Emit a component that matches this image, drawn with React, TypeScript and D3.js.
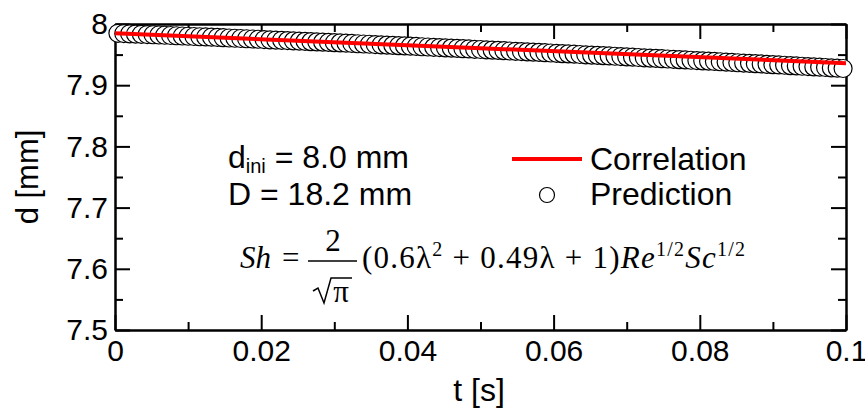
import * as d3 from "d3";
import React, { useRef, useEffect } from "react";

// time axis ticks
const xMajor = [0, 0.02, 0.04, 0.06, 0.08, 0.1];
const xMinor = [0.01, 0.03, 0.05, 0.07, 0.09];
const xTickLabels = ["0", "0.02", "0.04", "0.06", "0.08", "0.1"];
// diameter axis ticks
const yMajor = [7.5, 7.6, 7.7, 7.8, 7.9, 8.0];
const yMinor = [7.55, 7.65, 7.75, 7.85, 7.95];
const yTickLabels = ["7.5", "7.6", "7.7", "7.8", "7.9", "8"];

// correlation line
const corrT = [0, 0.05, 0.1];
const corrD = [7.985, 7.9605, 7.936];

// prediction (circles)
const predT = [
  0.0004, 0.0012, 0.002, 0.0028, 0.0036, 0.0044, 0.0052, 0.006, 0.0068, 0.0076,
  0.0084, 0.0092, 0.01, 0.0108, 0.0116, 0.0124, 0.0132, 0.014, 0.0148, 0.0156,
  0.0164, 0.0172, 0.018, 0.0188, 0.0196, 0.0204, 0.0212, 0.022, 0.0228, 0.0236,
  0.0244, 0.0252, 0.026, 0.0268, 0.0276, 0.0284, 0.0292, 0.03, 0.0308, 0.0316,
  0.0324, 0.0332, 0.034, 0.0348, 0.0356, 0.0364, 0.0372, 0.038, 0.0388, 0.0396,
  0.0404, 0.0412, 0.042, 0.0428, 0.0436, 0.0444, 0.0452, 0.046, 0.0468, 0.0476,
  0.0484, 0.0492, 0.05, 0.0508, 0.0516, 0.0524, 0.0532, 0.054, 0.0548, 0.0556,
  0.0564, 0.0572, 0.058, 0.0588, 0.0596, 0.0604, 0.0612, 0.062, 0.0628, 0.0636,
  0.0644, 0.0652, 0.066, 0.0668, 0.0676, 0.0684, 0.0692, 0.07, 0.0708, 0.0716,
  0.0724, 0.0732, 0.074, 0.0748, 0.0756, 0.0764, 0.0772, 0.078, 0.0788, 0.0796,
  0.0804, 0.0812, 0.082, 0.0828, 0.0836, 0.0844, 0.0852, 0.086, 0.0868, 0.0876,
  0.0884, 0.0892, 0.09, 0.0908, 0.0916, 0.0924, 0.0932, 0.094, 0.0948, 0.0956,
  0.0964, 0.0972, 0.098, 0.0988, 0.0996,
];
const predD = [
  7.9848, 7.9844, 7.984, 7.9836, 7.9832, 7.9828, 7.9824, 7.982, 7.9816, 7.9812,
  7.9808, 7.9804, 7.98, 7.9796, 7.9792, 7.9788, 7.9784, 7.978, 7.9776, 7.9771,
  7.9767, 7.9763, 7.9759, 7.9755, 7.9751, 7.9746, 7.9742, 7.9738, 7.9734, 7.9729,
  7.9725, 7.9721, 7.9717, 7.9712, 7.9708, 7.9704, 7.9699, 7.9695, 7.9691, 7.9686,
  7.9682, 7.9677, 7.9673, 7.9669, 7.9664, 7.966, 7.9655, 7.9651, 7.9646, 7.9642,
  7.9637, 7.9633, 7.9628, 7.9624, 7.9619, 7.9615, 7.961, 7.9606, 7.9601, 7.9596,
  7.9592, 7.9587, 7.9583, 7.9578, 7.9573, 7.9569, 7.9564, 7.9559, 7.9554, 7.955,
  7.9545, 7.954, 7.9536, 7.9531, 7.9526, 7.9521, 7.9516, 7.9512, 7.9507, 7.9502,
  7.9497, 7.9492, 7.9487, 7.9483, 7.9478, 7.9473, 7.9468, 7.9463, 7.9458, 7.9453,
  7.9448, 7.9443, 7.9438, 7.9433, 7.9428, 7.9423, 7.9418, 7.9413, 7.9408, 7.9403,
  7.9398, 7.9393, 7.9388, 7.9383, 7.9378, 7.9372, 7.9367, 7.9362, 7.9357, 7.9352,
  7.9347, 7.9341, 7.9336, 7.9331, 7.9326, 7.932, 7.9315, 7.931, 7.9305, 7.9299,
  7.9294, 7.9289, 7.9283, 7.9278, 7.9273,
];

const W = 865;
const H = 411;
const margin = { top: 24, right: 19, bottom: 81, left: 115 };
const SANS = "Arial, 'Liberation Sans', sans-serif";
const SERIF = "'Times New Roman', 'Liberation Serif', serif";

export default function App() {
  const ref = useRef<SVGSVGElement>(null);

  useEffect(() => {
    const svg = d3.select(ref.current);
    svg.selectAll("*").remove();

    const x = d3.scaleLinear().domain([0, 0.1]).range([margin.left, W - margin.right]);
    const y = d3.scaleLinear().domain([7.5, 8]).range([H - margin.bottom, margin.top]);
    const x0 = margin.left, x1 = W - margin.right, y0 = H - margin.bottom, y1 = margin.top;

    const style = (g: any) => {
      g.selectAll("path,line").attr("stroke", "#000").attr("stroke-width", 2);
      g.selectAll("text").attr("font-family", SANS).attr("font-size", 30).attr("fill", "#000");
    };

    // bottom
    svg.append("g").attr("transform", `translate(0,${y0})`)
      .call(d3.axisBottom(x).tickValues(xMajor).tickSize(-15).tickSizeOuter(0).tickPadding(10)
        .tickFormat((d, i) => xTickLabels[i]))
      .call(style);
    svg.append("g").attr("transform", `translate(0,${y0})`)
      .call(d3.axisBottom(x).tickValues(xMinor).tickSize(-8).tickSizeOuter(0).tickFormat(() => ""))
      .call(style);
    // top
    svg.append("g").attr("transform", `translate(0,${y1})`)
      .call(d3.axisTop(x).tickValues(xMajor).tickSize(-15).tickSizeOuter(0).tickFormat(() => ""))
      .call(style);
    svg.append("g").attr("transform", `translate(0,${y1})`)
      .call(d3.axisTop(x).tickValues(xMinor).tickSize(-8).tickSizeOuter(0).tickFormat(() => ""))
      .call(style);
    // left
    svg.append("g").attr("transform", `translate(${x0},0)`)
      .call(d3.axisLeft(y).tickValues(yMajor).tickSize(-15).tickSizeOuter(0).tickPadding(7)
        .tickFormat((d, i) => yTickLabels[i]))
      .call(style);
    svg.append("g").attr("transform", `translate(${x0},0)`)
      .call(d3.axisLeft(y).tickValues(yMinor).tickSize(-8).tickSizeOuter(0).tickFormat(() => ""))
      .call(style);
    // right
    svg.append("g").attr("transform", `translate(${x1},0)`)
      .call(d3.axisRight(y).tickValues(yMajor).tickSize(-15).tickSizeOuter(0).tickFormat(() => ""))
      .call(style);
    svg.append("g").attr("transform", `translate(${x1},0)`)
      .call(d3.axisRight(y).tickValues(yMinor).tickSize(-8).tickSizeOuter(0).tickFormat(() => ""))
      .call(style);

    // axis titles
    svg.append("text").attr("x", 479).attr("y", 401).attr("text-anchor", "middle")
      .attr("font-family", SANS).attr("font-size", 32).text("t [s]");
    svg.append("text").attr("transform", `translate(38,${(y0 + y1) / 2}) rotate(-90)`)
      .attr("text-anchor", "middle").attr("font-family", SANS).attr("font-size", 31).text("d [mm]");

    // prediction circles
    svg.append("g").selectAll("circle").data(predT).enter().append("circle")
      .attr("cx", (d) => x(d)).attr("cy", (d, i) => y(predD[i])).attr("r", 9)
      .attr("fill", "#fff").attr("stroke", "#000").attr("stroke-width", 1.2);

    // correlation line
    const line = d3.line<number>().x((d) => x(d)).y((d, i) => y(corrD[i]));
    svg.append("path").datum(corrT).attr("d", line).attr("fill", "none")
      .attr("stroke", "#ff0000").attr("stroke-width", 4);

    // conditions text
    const t1 = svg.append("text").attr("x", 228).attr("y", 168).attr("font-family", SANS).attr("font-size", 32);
    t1.append("tspan").text("d");
    t1.append("tspan").attr("font-size", 20).attr("dy", 5).text("ini");
    t1.append("tspan").attr("dy", -5).text(" = 8.0 mm");
    svg.append("text").attr("x", 228).attr("y", 205).attr("font-family", SANS).attr("font-size", 32)
      .text("D = 18.2 mm");

    // legend
    svg.append("line").attr("x1", 512).attr("x2", 582).attr("y1", 159).attr("y2", 159)
      .attr("stroke", "#ff0000").attr("stroke-width", 4);
    svg.append("text").attr("x", 590).attr("y", 170).attr("font-family", SANS).attr("font-size", 32)
      .text("Correlation");
    svg.append("circle").attr("cx", 547).attr("cy", 195).attr("r", 7.5)
      .attr("fill", "#fff").attr("stroke", "#000").attr("stroke-width", 1.2);
    svg.append("text").attr("x", 590).attr("y", 205).attr("font-family", SANS).attr("font-size", 32)
      .text("Prediction");

    // formula
    const f = svg.append("g").attr("font-family", SERIF).attr("fill", "#000").attr("font-size", 31);
    const base = 268;
    f.append("text").attr("x", 240).attr("y", base).attr("font-style", "italic").text("Sh");
    f.append("text").attr("x", 282).attr("y", base).text("=");
    f.append("text").attr("x", 333).attr("y", 251).attr("text-anchor", "middle").text("2");
    f.append("line").attr("x1", 308).attr("x2", 357).attr("y1", 261).attr("y2", 261)
      .attr("stroke", "#000").attr("stroke-width", 1.5);
    // radical sign over pi
    f.append("path").attr("d", "M313,291 L318,288 L324,303 L331,278 L352,278")
      .attr("fill", "none").attr("stroke", "#000").attr("stroke-width", 1.5);
    f.append("text").attr("x", 341).attr("y", 302).attr("text-anchor", "middle").text("\u03C0");
    const r = f.append("text").attr("x", 362).attr("y", base)
      .attr("textLength", 383).attr("lengthAdjust", "spacing");
    r.append("tspan").text("(0.6\u03BB");
    r.append("tspan").attr("font-size", 20).attr("dy", -12).text("2");
    r.append("tspan").attr("dy", 12).text(" + 0.49\u03BB + 1)");
    r.append("tspan").attr("font-style", "italic").text("Re");
    r.append("tspan").attr("font-size", 20).attr("dy", -12).text("1/2");
    r.append("tspan").attr("dy", 12).attr("font-style", "italic").text("Sc");
    r.append("tspan").attr("font-size", 20).attr("dy", -12).text("1/2");
  }, []);

  return (
    <div className="chart">
      <svg ref={ref} width={W} height={H} style={{ position: "absolute", left: 0, top: 0 }}></svg>
    </div>
  );
}
